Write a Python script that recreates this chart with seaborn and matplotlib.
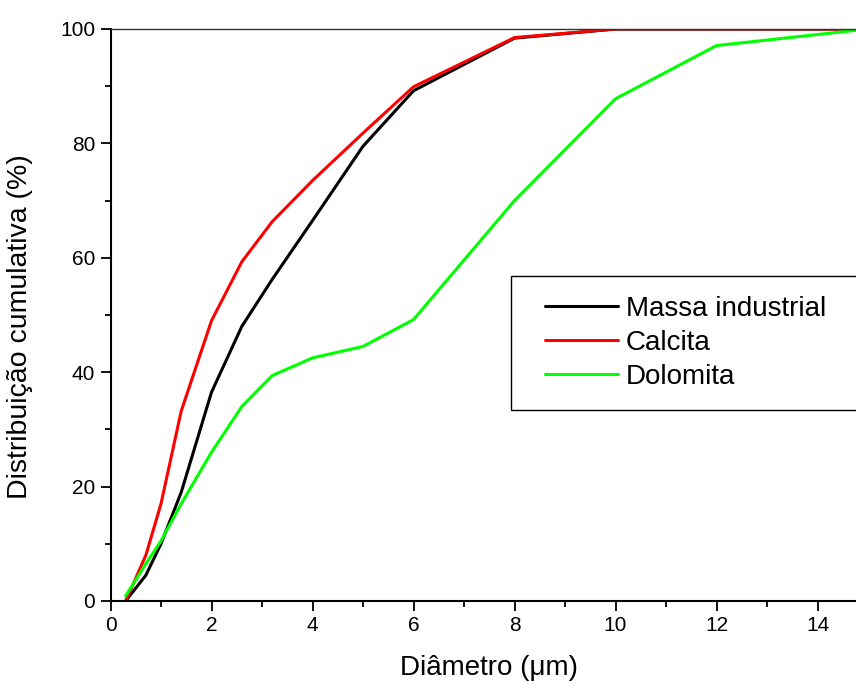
import matplotlib
matplotlib.use("Agg")
import matplotlib.pyplot as plt
from matplotlib.ticker import MultipleLocator
from matplotlib.legend_handler import HandlerLine2D
from matplotlib.lines import Line2D
import seaborn as sns
import pandas as pd

# ---- data ----
diametro = [0.3, 0.7, 1.0, 1.4, 2.0, 2.6, 3.2, 4.0, 5.0, 6.0, 8.0, 10.0, 12.0, 15.0]
massa_industrial = [0.0, 4.5, 10.0, 19.0, 36.5, 48.0, 56.2, 66.5, 79.5, 89.2, 98.4, 100.0, 100.0, 100.0]
calcita = [0.0, 8.0, 17.0, 33.2, 49.0, 59.3, 66.3, 73.5, 81.8, 89.9, 98.5, 100.0, 100.0, 100.0]
dolomita = [0.9, 6.5, 10.5, 17.0, 26.0, 34.0, 39.4, 42.5, 44.5, 49.2, 70.0, 87.8, 97.1, 100.0]

series_names = ["Massa industrial", "Calcita", "Dolomita"]
series_values = [massa_industrial, calcita, dolomita]
colors = ["#000000", "#ff0000", "#00ff00"]

x_ticks = [0, 2, 4, 6, 8, 10, 12, 14]
y_ticks = [0, 20, 40, 60, 80, 100]

rows = []
for name, vals in zip(series_names, series_values):
    for xv, yv in zip(diametro, vals):
        rows.append({"Diâmetro": xv, "Distribuição": yv, "Série": name})
df = pd.DataFrame(rows)

sns.set_theme(style="white")
plt.rcParams["font.family"] = ["Liberation Sans", "DejaVu Sans"]
plt.rcParams["text.color"] = "black"
plt.rcParams["axes.labelcolor"] = "black"
plt.rcParams["xtick.color"] = "black"
plt.rcParams["ytick.color"] = "black"

W, H = 856, 688
fig = plt.figure(figsize=(W / 100, H / 100), dpi=100)
ax_left, ax_right, ax_top, ax_bottom = 110.5, 868.0, 29.0, 601.0
ax = fig.add_axes([ax_left / W, (H - ax_bottom) / H,
                   (ax_right - ax_left) / W, (ax_bottom - ax_top) / H])

sns.lineplot(data=df, x="Diâmetro", y="Distribuição", hue="Série",
             hue_order=series_names, palette=colors, sort=False,
             estimator=None, linewidth=2.2, ax=ax, legend=False)

ax.set_xlim(0, 15)
ax.set_ylim(0, 100)
ax.set_xticks(x_ticks)
ax.set_yticks(y_ticks)
ax.xaxis.set_minor_locator(MultipleLocator(1))
ax.yaxis.set_minor_locator(MultipleLocator(10))

for s in ["left", "bottom"]:
    ax.spines[s].set_color("black")
    ax.spines[s].set_linewidth(1.5)
ax.spines["top"].set_color("#333333")
ax.spines["top"].set_linewidth(1.0)
ax.spines["right"].set_visible(False)

ax.tick_params(axis="both", which="major", direction="out", length=7.5,
               width=1.3, color="black", labelcolor="black", labelsize=15,
               pad=3.5, bottom=True, left=True, top=False, right=False)
ax.tick_params(axis="both", which="minor", direction="out", length=4,
               width=1.3, color="black", bottom=True, left=True,
               top=False, right=False)

ax.set_xlabel("Diâmetro (μm)", fontsize=20, color="black")
ax.set_ylabel("Distribuição cumulativa (%)", fontsize=20.5, color="black")
ax.xaxis.set_label_coords(0.5, -0.094)
ax.yaxis.set_label_coords(-0.102, 0.48)

handles = [Line2D([], [], color=c, linewidth=2.2) for c in colors]
leg_fs = 20
fs_px = leg_fs * 100 / 72
bpad_px = 20.0
x0 = (510.7 - ax_left) / (ax_right - ax_left)
y_top = (ax_bottom - 276) / (ax_bottom - ax_top)
y_bot = (ax_bottom - 408) / (ax_bottom - ax_top)
w_leg = (875 - 510.7) / (ax_right - ax_left)
leg = ax.legend(handles, series_names, loc="upper left", mode="expand",
                bbox_to_anchor=(x0, y_bot, w_leg, y_top - y_bot),
                borderaxespad=0, fontsize=leg_fs, frameon=True, fancybox=False,
                shadow=False, framealpha=1, edgecolor="black",
                borderpad=bpad_px / fs_px, labelspacing=0.28,
                handlelength=(107.3 - bpad_px) / fs_px,
                handletextpad=8 / fs_px,
                handler_map={Line2D: HandlerLine2D(xpad=(34.0 - bpad_px) / fs_px)})
leg.get_frame().set_linewidth(1.0)
for t in leg.get_texts():
    t.set_color("black")

fig.savefig("out.png", dpi=100)
